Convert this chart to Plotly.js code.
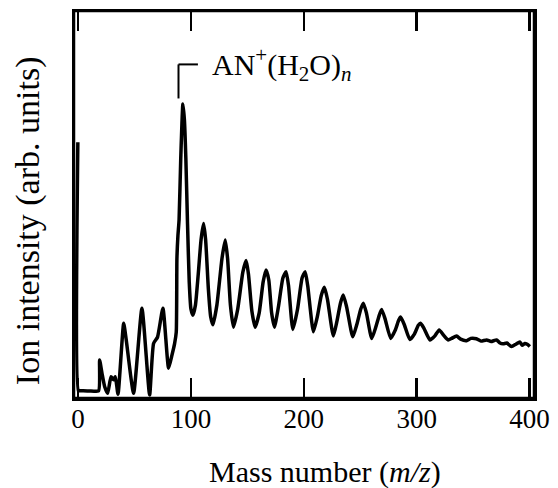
<!DOCTYPE html>
<html>
<head>
<meta charset="utf-8">
<script src="https://cdn.plot.ly/plotly-3.0.1.min.js"></script>
<style>html,body{margin:0;padding:0;background:#fff;}#chart{width:558px;height:488px;}</style>
</head>
<body>
<div id="chart"></div>
<script>
// Mass spectrum: mass number (m/z) vs ion intensity (arb. units)
const massNumber = [
  -0.2, 0.3, 2, 10, 18.2, 19.1, 21.2, 23.6, 26.2, 29.2, 31.5, 33, 35.4,
  40.4, 42.7, 49.2, 56.6, 63.4, 66.9, 70.4, 75.2, 80.2, 83.2, 85.5, 87,
  87.6, 88.5, 89.5, 91, 92.9, 94.2, 95.5, 97, 98.5, 100, 101.8,
  104, 106.5, 109, 111.2, 113, 115.5, 117.5, 119.5,
  123, 127.5, 130.4, 132.5, 135, 137.7,
  141.5, 146, 148.9, 151, 154, 156.9,
  160.5, 164, 166.6, 169, 171.5, 174,
  177.5, 181.5, 184.3, 186.5, 190.3,
  194.5, 198.5, 201.2, 203.5, 208.5,
  212, 215.5, 218.3, 221, 226.2,
  229.5, 232.5, 235, 238, 243.4,
  247, 250.5, 252.8, 255.5, 260.2,
  264, 267, 269, 272, 277,
  281, 284, 285.8, 289, 294,
  298, 301.5, 303.5, 306.5, 311.8,
  316, 320, 324, 328,
  331, 335.4, 339, 344.2, 348, 353, 357, 362, 366, 370.8, 373.5, 376.6,
  380, 384, 388, 391.4, 393.5, 395.8, 398, 400.3
];
const intensity = [
  66.1, 1.9, 1.9, 1.8, 1.9, 9.8, 6.4, 2.9, 1.2, 5.5, 4.7, 5.5, 1.0,
  19.3, 15.0, 1.2, 23.2, 0.8, 14.1, 15.7, 23.2, 7.7, 11.1, 14.0, 17.0,
  36.0, 42.0, 46.0, 62.0, 76.0, 72.0, 62.0, 45.0, 30.0, 23.0, 21.4,
  24.0, 32.0, 41.0, 45.1, 41.0, 28.0, 21.0, 18.9,
  24.0, 36.0, 40.8, 36.0, 24.0, 18.3,
  23.0, 32.5, 35.5, 32.0, 22.5, 18.3,
  22.0, 30.0, 33.1, 30.5, 22.0, 18.3,
  23.5, 31.0, 32.6, 29.0, 17.7,
  23.0, 31.0, 32.6, 29.0, 17.1,
  21.0, 26.5, 28.6, 25.5, 16.0,
  20.0, 24.5, 26.6, 23.5, 15.8,
  19.0, 23.0, 24.5, 22.0, 15.4,
  18.5, 21.5, 22.9, 20.5, 15.4,
  17.5, 20.0, 20.9, 19.0, 15.1,
  16.5, 18.8, 19.3, 18.0, 15.0,
  16.0, 17.6, 16.2, 15.0,
  15.4, 16.0, 15.2, 14.8, 15.4, 15.3, 14.7, 15.0, 14.6, 15.0, 14.3, 14.0,
  14.2, 13.3, 13.9, 14.5, 13.6, 14.1, 13.9, 13.3
];
const xTicks = [0, 100, 200, 300, 400];
const xTickLabels = ['0', '100', '200', '300', '400'];
const peakLabel = 'AN<sup>+</sup>(H<sub>2</sub>O)<sub><i>n</i></sub>';
const xTitle = 'Mass number (<i>m/z</i>)';
const yTitle = 'Ion intensity (arb. units)';

const serif = '"Liberation Serif", "Times New Roman", serif';

const trace = {
  x: massNumber, y: intensity, type: 'scatter', mode: 'lines',
  line: {color: '#000', width: 3.5, shape: 'spline', smoothing: 0.5},
  hoverinfo: 'skip'
};

const layout = {
  width: 558, height: 488,
  margin: {l: 74, r: 24, t: 11, b: 90},
  paper_bgcolor: '#fff', plot_bgcolor: '#fff',
  showlegend: false,
  font: {family: serif, color: '#000', size: 26},
  xaxis: {
    range: [-3.6, 404], tickmode: 'array', tickvals: xTicks, ticktext: xTickLabels,
    ticks: 'inside', ticklen: 20, tickwidth: 2.5, tickcolor: '#000000',
    showline: true, mirror: 'all', linecolor: '#000000', linewidth: 2.5,
    showgrid: false, zeroline: false,
    tickfont: {family: serif, size: 27, color: '#000'},
    ticklabelstandoff: -5
  },
  yaxis: {
    range: [0, 100], showticklabels: false, ticks: '',
    showline: true, mirror: 'all', linecolor: '#000000', linewidth: 2.5,
    showgrid: false, zeroline: false
  },
  shapes: [
    {type: 'rect', xref: 'paper', yref: 'paper', x0: 0, x1: 1, y0: 0, y1: 1, layer: 'above', line: {color: '#000000', width: 2.5}, fillcolor: 'rgba(0,0,0,0)'},
    {type: 'line', xref: 'x', yref: 'y', x0: 89, x1: 89, y0: 77.4, y1: 86.2, line: {color: '#000', width: 2}},
    {type: 'line', xref: 'x', yref: 'y', x0: 89, x1: 106.2, y0: 86.2, y1: 86.2, line: {color: '#000', width: 2}}
  ],
  annotations: [
    {text: peakLabel, xref: 'x', yref: 'y', x: 117, y: 86.2, xanchor: 'left', yanchor: 'middle',
     showarrow: false, font: {family: serif, size: 30, color: '#000'}},
    {text: xTitle, xref: 'paper', yref: 'paper', x: 0.546, y: -0.19, xanchor: 'center', yanchor: 'middle',
     showarrow: false, font: {family: serif, size: 30, color: '#000'}},
    {text: yTitle, xref: 'paper', yref: 'paper', x: -0.1, y: 0.457, xanchor: 'center', yanchor: 'middle',
     textangle: -90, showarrow: false, font: {family: serif, size: 34, color: '#000'}}
  ]
};

Plotly.newPlot('chart', [trace], layout, {displayModeBar: false, staticPlot: true});
</script>
</body>
</html>
